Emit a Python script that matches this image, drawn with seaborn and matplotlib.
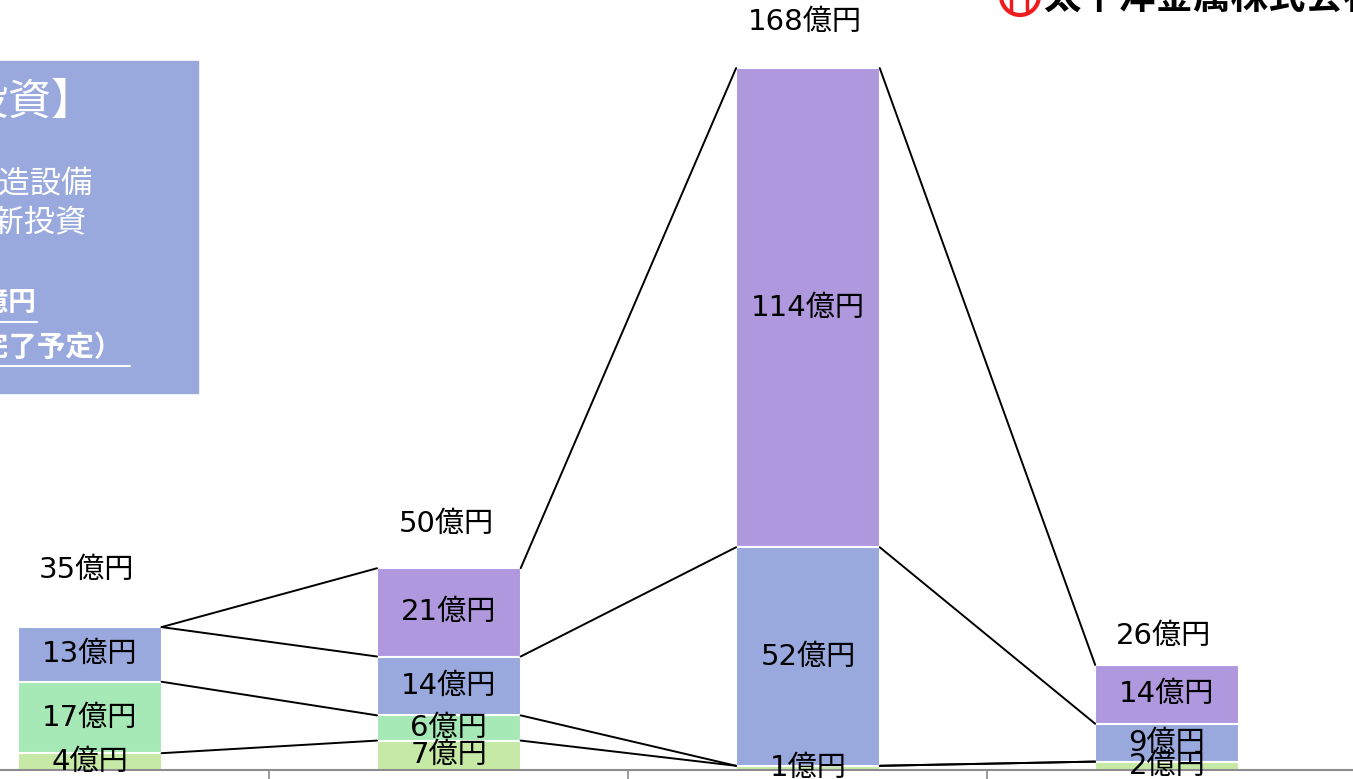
import numpy as np
import pandas as pd
import matplotlib
matplotlib.use('Agg')
import matplotlib.pyplot as plt
import seaborn as sns
from matplotlib.patches import Rectangle, Ellipse
from matplotlib.lines import Line2D

# data (億円)
categories = ['期間1', '期間2', '期間3', '期間4']
light_green = [4, 7, 1, 2]
green = [17, 6, 0, 0]
blue = [13, 14, 52, 9]
purple = [0, 21, 114, 14]
totals = [35, 50, 168, 26]

series = [light_green, green, blue, purple]
colors = ['#C6EAA6', '#A6E8B6', '#99A9DE', '#B098DE']
total_offsets = [57, 44, 46, 29]   # label gap above each bar, pixels

sns.set_theme(style='white')
plt.rcParams['font.family'] = ['DejaVu Sans', 'Noto Sans CJK JP']
CJK = ['Noto Sans CJK JP', 'DejaVu Sans']

W, H = 1353, 779
fig = plt.figure(figsize=(W / 100, H / 100), dpi=100)
ax = fig.add_axes([0, 9 / H, 1, 770 / H])

def fx(x):
    return x / W

def fy(y):
    return 1 - y / H

cum = np.cumsum(np.array(series), axis=0)

# stacked bars: draw from the top layer down
for k in range(len(series) - 1, -1, -1):
    sns.barplot(x=categories, y=cum[k], color=colors[k], width=0.4,
                saturation=1, edgecolor='white', linewidth=1.5, ax=ax)

# series lines between bars
for k in range(len(series)):
    for i in range(len(categories) - 1):
        ax.plot([i + 0.2, i + 0.8], [cum[k][i], cum[k][i + 1]],
                color='black', lw=1.4, zorder=1)

# segment labels
for k in range(len(series)):
    for i in range(len(categories)):
        v = series[k][i]
        if v > 0:
            bottom = cum[k][i] - v
            ax.text(i, bottom + v / 2, f'{v}億円', ha='center', va='center',
                    fontsize=21, color='black', zorder=5)

# totals
for i, t in enumerate(totals):
    ax.annotate(f'{t}億円', (i, cum[-1][i]), xytext=(-3, total_offsets[i]),
                textcoords='offset pixels', ha='center', va='center',
                fontsize=21, color='black')

ax.set_xlim(-0.25, 3.518)
ax.set_ylim(0, 183.2)
ax.set_yticks([])
ax.set_xticks([0.5, 1.5, 2.5])
ax.set_xticklabels([])
ax.set_xlabel('')
ax.set_ylabel('')
ax.tick_params(axis='x', bottom=True, length=10, width=1.2, color='#8c8c8c', direction='out')
for s in ['left', 'right', 'top']:
    ax.spines[s].set_visible(False)
ax.spines['bottom'].set_color('#8c8c8c')
ax.spines['bottom'].set_linewidth(1.5)

# text box on the left
box_color = '#99A9DE'
fig.patches.append(Rectangle((0, fy(393)), 198 / W, (393 - 61) / H,
                             transform=fig.transFigure, color=box_color, zorder=0))
fig.text(fx(94), fy(103), '【設備投資】', ha='right', va='center', fontsize=31,
         color='white', family=CJK)
fig.text(fx(93), fy(184), '・製造設備', ha='right', va='center', fontsize=22.5,
         color='white', family=CJK)
fig.text(fx(87), fy(222), '・更新投資', ha='right', va='center', fontsize=22.5,
         color='white', family=CJK)
fig.text(fx(37), fy(302), '総額約250億円', ha='right', va='center', fontsize=20,
         color='white', fontweight='bold', family=CJK)
fig.text(fx(122), fy(348), '（2025年度完了予定）', ha='right', va='center', fontsize=20.5,
         color='white', fontweight='bold', family=CJK)
fig.lines.append(Line2D([0, fx(37)], [fy(322), fy(322)], transform=fig.transFigure,
                        color='white', lw=1.5))
fig.lines.append(Line2D([0, fx(130)], [fy(366), fy(366)], transform=fig.transFigure,
                        color='white', lw=1.5))

# company logo, cut at the top
fig.patches.append(Ellipse((fx(1020), fy(-4)), 38 / W, 38 / H, transform=fig.transFigure,
                           fill=False, edgecolor='#ee1c1c', lw=3))
fig.lines.append(Line2D([fx(1011), fx(1011)], [fy(-5), fy(12)], transform=fig.transFigure,
                        color='#ee1c1c', lw=2.5))
fig.lines.append(Line2D([fx(1027), fx(1027)], [fy(-5), fy(10)], transform=fig.transFigure,
                        color='#ee1c1c', lw=2.5))
fig.text(fx(1043), fy(9), '太平洋金属株式会社', ha='left', va='baseline', fontsize=27,
         fontweight='bold', color='black', family=CJK)

fig.savefig('out.png', dpi=100)
